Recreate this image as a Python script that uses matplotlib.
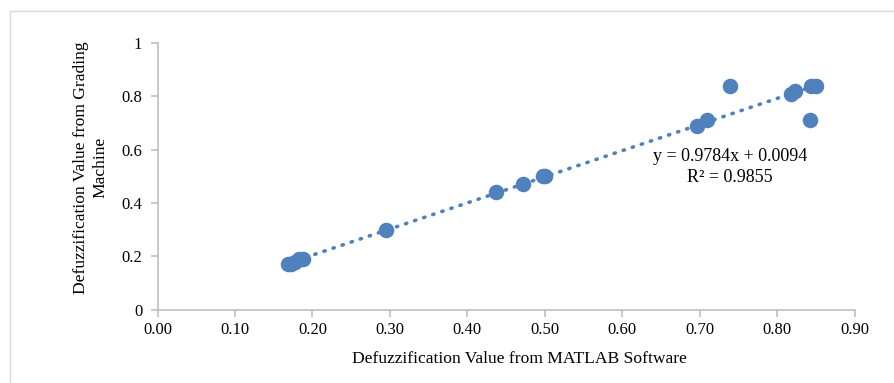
import numpy as np
from matplotlib import pyplot as plt
from matplotlib.lines import Line2D

# values
matlab = [0.168, 0.172, 0.177, 0.183, 0.188, 0.295, 0.437, 0.472, 0.498, 0.500,
          0.697, 0.709, 0.739, 0.818, 0.823, 0.842, 0.843, 0.850]
grading = [0.17, 0.17, 0.18, 0.19, 0.19, 0.30, 0.44, 0.47, 0.50, 0.50,
           0.69, 0.71, 0.84, 0.81, 0.82, 0.71, 0.84, 0.84]
slope, intercept = 0.9784, 0.0094
x_ticks = [0.0, 0.1, 0.2, 0.3, 0.4, 0.5, 0.6, 0.7, 0.8, 0.9]
y_ticks = [0, 0.2, 0.4, 0.6, 0.8, 1]

plt.rcParams['font.family'] = ['Liberation Serif', 'DejaVu Serif']
blue = '#4F81BD'
grey = '#BFBFBF'

fig = plt.figure(figsize=(8.95, 3.83), dpi=100)
ax = fig.add_axes([0.176, 0.191, 0.779, 0.697])

ax.scatter(matlab, grading, s=125, color=blue, zorder=3, linewidths=0)

# linear trendline
xs = np.array([min(matlab), max(matlab)])
ax.plot(xs, slope * xs + intercept, color=blue, lw=2.6,
        linestyle=(0, (0.35, 2.3)), dash_capstyle='round', zorder=2)

ax.text(0.739, 0.535, "y = 0.9784x + 0.0094\nR² = 0.9855", ha='center',
        va='center', fontsize=13, linespacing=1.25)

ax.set_xlim(0, 0.9)
ax.set_ylim(0, 1)
ax.set_xticks(x_ticks)
ax.set_xticklabels(["%.2f" % t for t in x_ticks])
ax.set_yticks(y_ticks)
ax.set_yticklabels(["0", "0.2", "0.4", "0.6", "0.8", "1"])
for s in ['top', 'right']:
    ax.spines[s].set_visible(False)
for s in ['left', 'bottom']:
    ax.spines[s].set_color(grey)
    ax.spines[s].set_linewidth(1.2)
ax.tick_params(axis='both', colors=grey, labelcolor='black', labelsize=12,
               length=5, width=1.2)
ax.tick_params(axis='x', pad=4)
ax.tick_params(axis='y', pad=6)

ax.set_xlabel("Defuzzification Value from MATLAB Software", fontsize=12.6,
              labelpad=9)
ax.xaxis.label.set_x(0.519)
ax.set_ylabel("Defuzzification Value from Grading\nMachine", fontsize=12.6,
              labelpad=9, linespacing=1.3)
ax.yaxis.label.set_y(0.534)

# chart border (top and left visible)
fig.add_artist(Line2D([10 / 895, 1], [1 - 11 / 383, 1 - 11 / 383], color='#D9D9D9', lw=1))
fig.add_artist(Line2D([10 / 895, 10 / 895], [0, 1 - 11 / 383], color='#D9D9D9', lw=1))

fig.savefig('out.png', dpi=100)
